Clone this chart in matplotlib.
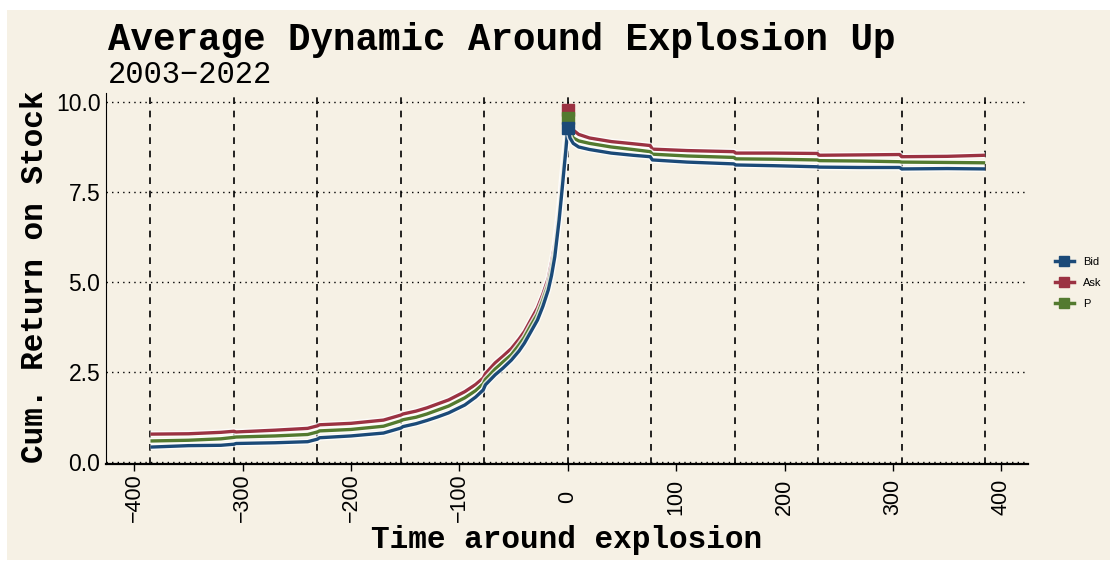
import matplotlib
matplotlib.use("Agg")
import matplotlib.pyplot as plt
import matplotlib.patheffects as pe
from matplotlib.patches import Rectangle

# Werte
x_pre = [-385, -350, -320, -308, -306, -270, -240, -231, -229, -200, -170, -154, -152,
         -140, -130, -120, -110, -95, -85, -78, -76, -67, -60, -52, -45, -40, -34, -28,
         -23, -18, -15, -12, -8, -5, -2, 0]
bid_pre = [0.41, 0.45, 0.46, 0.49, 0.51, 0.53, 0.56, 0.63, 0.67, 0.72, 0.80, 0.94, 0.98,
           1.06, 1.15, 1.25, 1.36, 1.58, 1.80, 2.00, 2.14, 2.42, 2.60, 2.83, 3.08, 3.30, 3.62, 3.94,
           4.32, 4.78, 5.18, 5.70, 6.72, 7.65, 8.60, 9.28]
ask_pre = [0.77, 0.78, 0.82, 0.85, 0.83, 0.88, 0.93, 1.00, 1.03, 1.07, 1.16, 1.30, 1.33,
           1.41, 1.50, 1.61, 1.72, 1.95, 2.15, 2.33, 2.45, 2.75, 2.93, 3.15, 3.41, 3.62, 3.95, 4.28,
           4.66, 5.10, 5.55, 6.05, 7.05, 8.00, 8.95, 9.78]
p_pre = [0.58, 0.60, 0.64, 0.68, 0.69, 0.72, 0.76, 0.83, 0.86, 0.90, 0.99, 1.14, 1.17,
         1.24, 1.33, 1.44, 1.55, 1.78, 1.98, 2.17, 2.29, 2.58, 2.77, 2.98, 3.25, 3.46, 3.79, 4.10,
         4.49, 4.93, 5.37, 5.87, 6.88, 7.83, 8.78, 9.55]

x_post = [0, 2, 5, 10, 20, 40, 60, 76, 78, 110, 153, 155, 190, 230, 232, 270, 306, 308, 350, 385]
bid_post = [9.28, 9.00, 8.85, 8.75, 8.68, 8.58, 8.52, 8.48, 8.39, 8.33, 8.28, 8.25, 8.23, 8.20,
            8.19, 8.18, 8.18, 8.14, 8.15, 8.14]
ask_post = [9.78, 9.35, 9.22, 9.10, 9.00, 8.90, 8.84, 8.79, 8.69, 8.65, 8.62, 8.58, 8.58, 8.57,
            8.52, 8.53, 8.54, 8.48, 8.49, 8.52]
p_post = [9.55, 9.20, 9.00, 8.92, 8.85, 8.75, 8.68, 8.62, 8.55, 8.50, 8.46, 8.42, 8.41, 8.39,
          8.37, 8.36, 8.34, 8.33, 8.32, 8.31]

vlinien = [-385, -308, -231, -154, -77, 0, 77, 154, 231, 308, 385]
x_ticks = [-400, -300, -200, -100, 0, 100, 200, 300, 400]
y_ticks = [0.0, 2.5, 5.0, 7.5, 10.0]

serien = [
    ("Ask", ask_pre, ask_post, "#9b3242"),
    ("P", p_pre, p_post, "#537a2f"),
    ("Bid", bid_pre, bid_post, "#1b4a78"),
]
reihenfolge = ["Bid", "Ask", "P"]

bg = "#f6f1e5"
mono = "Liberation Mono"
sans = "Liberation Sans"

fig = plt.figure(figsize=(11.17, 5.66), dpi=100, facecolor="white")
fig.patches.append(Rectangle((7 / 1117, 6 / 566), 1103 / 1117, 550 / 566,
                             transform=fig.transFigure, facecolor=bg, edgecolor="none", zorder=-10))
ax = fig.add_axes([106 / 1117, (566 - 464) / 566, (1028 - 106) / 1117, (464 - 93) / 566])
ax.set_facecolor(bg)

for y in y_ticks:
    ax.axhline(y, color="black", lw=1.0, ls=(0, (1, 3)), zorder=1)
for v in vlinien:
    ax.axvline(v, color="black", lw=1.2, ls=(0, (4, 4)), zorder=1)

halo = [pe.Stroke(linewidth=4.4, foreground="white", alpha=0.8), pe.Normal()]
handles = {}
for ime, pre, post, barva in serien:
    ax.plot(x_pre, pre, color=barva, lw=2.4, path_effects=halo, zorder=3, solid_capstyle="butt")
    ax.plot(x_post, post, color=barva, lw=2.4, path_effects=halo, zorder=3, solid_capstyle="butt")
    ax.plot([0], [post[0]], marker="s", ms=8, color=barva, zorder=4, ls="")
    handles[ime] = plt.Line2D([], [], color=barva, lw=2.5, marker="s", ms=6.5)

ax.set_xlim(-426, 424.5)
ax.set_ylim(-0.06, 10.25)
ax.set_xticks(x_ticks)
ax.set_yticks(y_ticks)
ax.set_xticklabels([str(t).replace("-", "\u2212") for t in x_ticks], fontfamily=sans, fontsize=15.5)
ax.set_yticklabels([f"{t:.1f}" for t in y_ticks], fontfamily=sans, fontsize=16.5)
ax.tick_params(axis="x", length=5, width=1, pad=19, rotation=90)
ax.tick_params(axis="y", length=0, pad=4)
plt.setp(ax.get_xticklabels(), va="center")

for s in ["top", "right"]:
    ax.spines[s].set_visible(False)
ax.spines["left"].set_linewidth(0.8)
ax.spines["bottom"].set_linewidth(1.6)

ax.set_xlabel("Time around explosion", fontfamily=mono, fontweight="bold", fontsize=22.4)
ax.xaxis.set_label_coords(0.5, (464 - 540) / 371)
ax.xaxis.label.set_va("center")
ax.set_ylabel("Cum. Return on Stock", fontfamily=mono, fontweight="bold", fontsize=22.4)
ax.yaxis.set_label_coords((35 - 106) / 922, 0.505)
ax.yaxis.label.set_va("center")

fig.text(108 / 1117, (566 - 50) / 566, "Average Dynamic Around Explosion Up",
         fontfamily=mono, fontweight="bold", fontsize=27, va="baseline")
fig.text(108 / 1117, (566 - 83) / 566, "2003\u22122022",
         fontfamily=mono, fontsize=22, va="baseline")

fig.legend([handles[n] for n in reihenfolge], reihenfolge, loc="center left",
           bbox_to_anchor=(1045 / 1117, 0.5), frameon=False,
           prop={"family": sans, "size": 8}, handlelength=1.7, labelspacing=1.0)

fig.savefig("out.png", dpi=100, facecolor="white")
